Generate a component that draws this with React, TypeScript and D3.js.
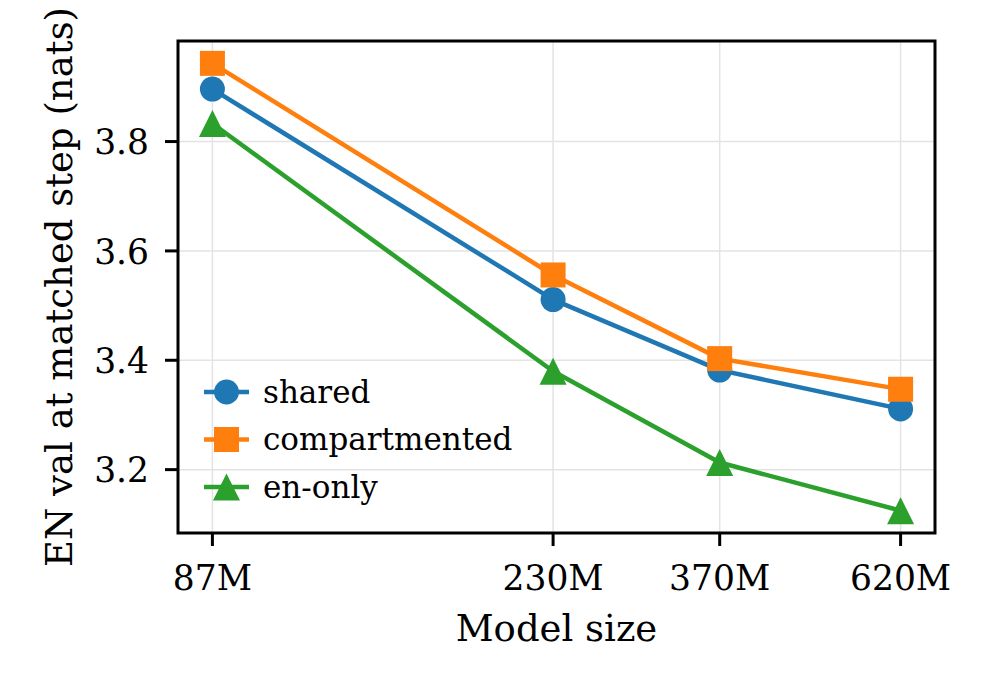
import React from "react";
import * as d3 from "d3";

// model sizes in millions of parameters
const sizes = [87, 230, 370, 620];
const sizeLabels = ["87M", "230M", "370M", "620M"];

const shared = [3.896, 3.511, 3.382, 3.311];
const compartmented = [3.943, 3.556, 3.403, 3.347];
const enOnly = [3.833, 3.38, 3.213, 3.125];

const yTicks = [3.2, 3.4, 3.6, 3.8];

const seriesNames = ["shared", "compartmented", "en-only"];
const seriesColors = ["#1f77b4", "#ff7f0e", "#2ca02c"];
const seriesMarkers = ["circle", "square", "triangle"];

const width = 990;
const height = 690;
const margin = { top: 41, right: 55, bottom: 157, left: 178 };
const font = "'DejaVu Serif', serif";

function Marker({ kind, x, y, color }: { kind: string; x: number; y: number; color: string }) {
  if (kind === "circle") return <circle cx={x} cy={y} r={12.5} fill={color} />;
  if (kind === "square")
    return <rect x={x - 12.5} y={y - 12.5} width={25} height={25} fill={color} />;
  const s = 13.5;
  return (
    <path
      d={`M${x},${y - s}L${x - s},${y + s}L${x + s},${y + s}Z`}
      fill={color}
    />
  );
}

export default function App() {
  const plotW = width - margin.left - margin.right;
  const plotH = height - margin.top - margin.bottom;
  const left = margin.left;
  const top = margin.top;
  const bottom = top + plotH;
  const right = left + plotW;

  const allY = [...shared, ...compartmented, ...enOnly];
  const [yMin, yMax] = d3.extent(allY) as [number, number];
  const yPad = (yMax - yMin) * 0.05;

  const lxMin = Math.log10(d3.min(sizes) as number);
  const lxMax = Math.log10(d3.max(sizes) as number);
  const xPad = (lxMax - lxMin) * 0.05;

  const x = d3
    .scaleLog()
    .domain([Math.pow(10, lxMin - xPad), Math.pow(10, lxMax + xPad)])
    .range([left, right]);
  const y = d3
    .scaleLinear()
    .domain([yMin - yPad, yMax + yPad])
    .range([bottom, top]);

  const line = d3
    .line<number>()
    .x((_, i) => x(sizes[i]))
    .y((d) => y(d));

  const data = [shared, compartmented, enOnly];

  const legendX = 204;
  const legendY = 392;
  const legendStep = 47.5;

  return (
    <div style={{ position: "absolute", left: 0, top: 0 }}>
      <svg width={width} height={height} style={{ display: "block", background: "#fff" }}>
        <defs>
          <clipPath id="plot-clip">
            <rect x={left} y={top} width={plotW} height={plotH} />
          </clipPath>
        </defs>

        {/* grid */}
        {sizes.map((s) => (
          <line key={`gx${s}`} x1={x(s)} x2={x(s)} y1={top} y2={bottom} stroke="#e3e3e3" strokeWidth={1.5} />
        ))}
        {yTicks.map((t) => (
          <line key={`gy${t}`} x1={left} x2={right} y1={y(t)} y2={y(t)} stroke="#e3e3e3" strokeWidth={1.5} />
        ))}

        {/* series */}
        {data.map((vals, si) => (
          <g key={seriesNames[si]}>
            <path d={line(vals) as string} fill="none" stroke={seriesColors[si]} strokeWidth={4.5} strokeLinejoin="round" strokeLinecap="square" />
            {vals.map((v, i) => (
              <Marker key={i} kind={seriesMarkers[si]} x={x(sizes[i])} y={y(v)} color={seriesColors[si]} />
            ))}
          </g>
        ))}

        {/* legend */}
        {seriesNames.map((name, i) => (
          <g key={`leg${name}`}>
            <line x1={legendX} x2={legendX + 45} y1={legendY + i * legendStep} y2={legendY + i * legendStep} stroke={seriesColors[i]} strokeWidth={4.5} />
            <Marker kind={seriesMarkers[i]} x={legendX + 22.5} y={legendY + i * legendStep} color={seriesColors[i]} />
            <text x={263} y={legendY + i * legendStep + 10.7} fontFamily={font} fontSize={31} fill="#000">
              {name}
            </text>
          </g>
        ))}

        {/* frame */}
        <rect x={left} y={top} width={plotW} height={plotH} fill="none" stroke="#000" strokeWidth={3} />

        {/* x ticks */}
        {sizes.map((s, i) => (
          <g key={`xt${s}`}>
            <line x1={x(s)} x2={x(s)} y1={bottom} y2={bottom + 13} stroke="#000" strokeWidth={3} />
            <text x={x(s)} y={bottom + 57} textAnchor="middle" fontFamily={font} fontSize={34.5} fill="#000">
              {sizeLabels[i]}
            </text>
          </g>
        ))}

        {/* y ticks */}
        {yTicks.map((t) => (
          <g key={`yt${t}`}>
            <line x1={left - 13} x2={left} y1={y(t)} y2={y(t)} stroke="#000" strokeWidth={3} />
            <text x={left - 29} y={y(t) + 12.6} textAnchor="end" fontFamily={font} fontSize={34.5} fill="#000">
              {d3.format(".1f")(t)}
            </text>
          </g>
        ))}

        {/* axis labels */}
        <text x={(left + right) / 2} y={641} textAnchor="middle" fontFamily={font} fontSize={37} fill="#000">
          Model size
        </text>
        <text
          transform={`translate(72,${(top + bottom) / 2}) rotate(-90)`}
          textAnchor="middle"
          fontFamily={font}
          fontSize={37}
          fill="#000"
        >
          EN val at matched step (nats)
        </text>
      </svg>
    </div>
  );
}
